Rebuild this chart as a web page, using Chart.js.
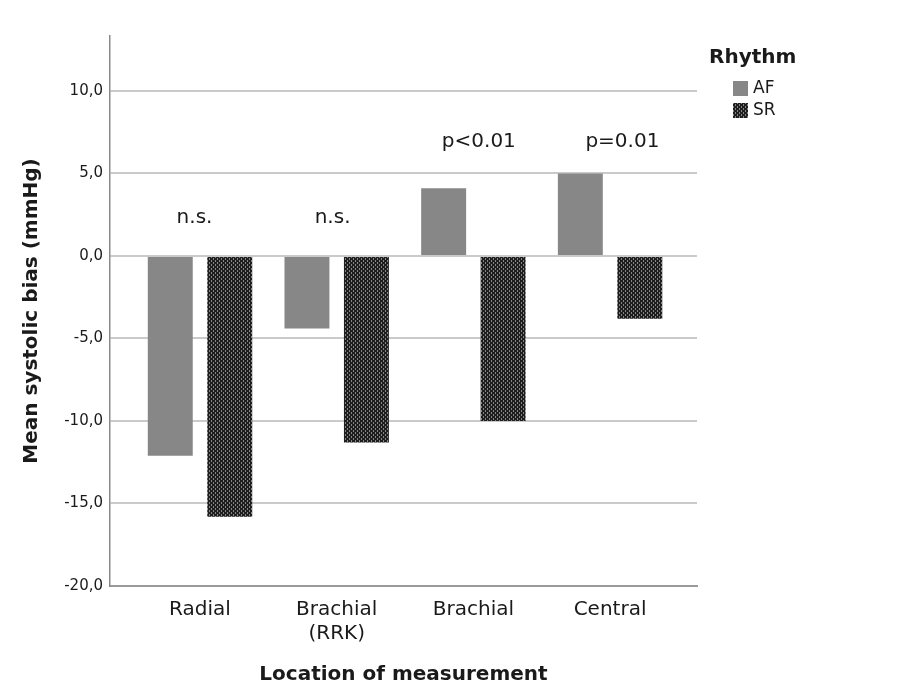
<!DOCTYPE html>
<html>
<head>
<meta charset="utf-8">
<script src="https://cdn.jsdelivr.net/npm/chart.js@4"></script>
<style>
	html, body { margin: 0; padding: 0; background: #fff; }
	#wrap { width: 909px; height: 696px; }
</style>
</head>
<body>
<div id="wrap"><canvas id="myChart" width="909" height="696"></canvas></div>
<script>
// chart data
var categories = [["Radial"], ["Brachial", "(RRK)"], ["Brachial"], ["Central"]];
var afValues = [-12.1, -4.4, 4.1, 5.0];
var srValues = [-15.8, -11.3, -10.0, -3.8];
var yTickValues = [-20, -15, -10, -5, 0, 5, 10];
var sigLabels = ["n.s.", "n.s.", "p<0.01", "p=0.01"];
var sigY = [2.0, 2.0, 6.6, 6.6];
var sigShift = [-0.04, -0.03, 0.04, 0.09];

function makePattern() {
	var c = document.createElement("canvas");
	c.width = 4; c.height = 4;
	var g = c.getContext("2d");
	g.fillStyle = "#1e1e1e";
	g.fillRect(0, 0, 4, 4);
	g.fillStyle = "#858585";
	g.fillRect(3, 0, 1, 2);
	g.fillRect(1, 2, 1, 2);
	return g.createPattern(c, "repeat");
}
var srFill = makePattern();
var afFill = "#878787";

function toPoints(vals) {
	var out = [];
	for (var i = 0; i < vals.length; i++) {
		out.push({x: i + 1, y: vals[i]});
	}
	return out;
}

// p-value / n.s. labels above each group
var sigPlugin = {
	id: "sigLabels",
	afterDatasetsDraw: function (chart) {
		var ctx = chart.ctx;
		var xs = chart.scales.x, ys = chart.scales.y;
		ctx.save();
		ctx.font = "20px 'DejaVu Sans'";
		ctx.fillStyle = "#1a1a1a";
		ctx.textAlign = "center";
		ctx.textBaseline = "alphabetic";
		for (var i = 0; i < sigLabels.length; i++) {
			ctx.fillText(sigLabels[i], xs.getPixelForValue(i + 1 + sigShift[i]), ys.getPixelForValue(sigY[i]));
		}
		ctx.restore();
	}
};

// legend drawn by hand, SPSS style
var legendPlugin = {
	id: "rhythmLegend",
	afterDraw: function (chart) {
		var ctx = chart.ctx;
		var x0 = chart.chartArea.right + 12;
		ctx.save();
		ctx.fillStyle = "#1a1a1a";
		ctx.font = "bold 20px 'DejaVu Sans'";
		ctx.textBaseline = "alphabetic";
		ctx.fillText("Rhythm", x0, 63);
		ctx.font = "17px 'DejaVu Sans'";
		ctx.textBaseline = "middle";
		var ds = chart.data.datasets;
		for (var i = 0; i < ds.length; i++) {
			var y = 81 + i * 22;
			ctx.fillStyle = ds[i].backgroundColor;
			ctx.fillRect(x0 + 24, y, 15, 15);
			ctx.fillStyle = "#1a1a1a";
			ctx.fillText(ds[i].label, x0 + 44, y + 8);
		}
		ctx.restore();
	}
};

Chart.defaults.font.family = "'DejaVu Sans'";
Chart.defaults.color = "#1a1a1a";

new Chart("myChart", {
	type: "bar",
	data: {
		datasets: [{
			label: "AF",
			backgroundColor: afFill,
			data: toPoints(afValues)
		}, {
			label: "SR",
			backgroundColor: srFill,
			data: toPoints(srValues)
		}]
	},
	options: {
		responsive: false,
		animation: false,
		categoryPercentage: 0.87,
		barPercentage: 0.756,
		layout: {padding: {top: 36, right: 212, bottom: 0, left: 0}},
		plugins: {
			legend: {display: false},
			tooltip: {enabled: false}
		},
		scales: {
			x: {
				type: "linear",
				min: 0.3416,
				max: 4.636,
				offset: false,
				afterBuildTicks: function (scale) {
					scale.ticks = categories.map(function (c, i) { return {value: i + 1}; });
				},
				afterFit: function (scale) { scale.height = 110; },
				grid: {display: false, drawTicks: false},
				border: {display: true, color: "#9a9a9a", width: 2},
				ticks: {
					padding: 12,
					font: {size: 20},
					maxRotation: 0,
					autoSkip: false,
					callback: function (value, index) { return categories[index]; }
				},
				title: {
					display: true,
					text: "Location of measurement",
					font: {size: 20, weight: "bold"},
					padding: {top: 0, bottom: 9}
				}
			},
			y: {
				min: -20,
				max: 13.33,
				afterBuildTicks: function (scale) {
					scale.ticks = yTickValues.map(function (v) { return {value: v}; });
				},
				afterFit: function (scale) { scale.width = 110; },
				grid: {color: "#cacaca", lineWidth: 2, drawTicks: false},
				border: {display: true, color: "#8a8a8a", width: 1.5},
				ticks: {
					padding: 7,
					font: {size: 15},
					callback: function (value) { return value.toFixed(1).replace(".", ","); }
				},
				title: {
					display: true,
					text: "Mean systolic bias (mmHg)",
					font: {size: 20, weight: "bold"},
					padding: {top: 20, bottom: 0}
				}
			}
		}
	},
	plugins: [sigPlugin, legendPlugin]
});
</script>
</body>
</html>
